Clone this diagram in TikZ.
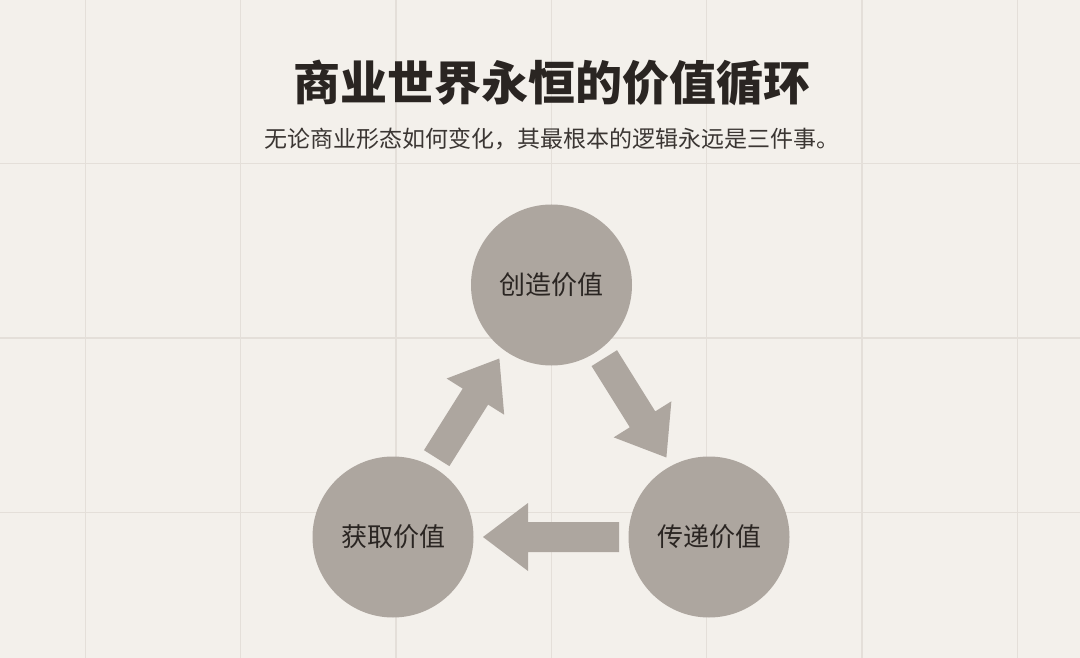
\documentclass[tikz,border=0pt]{standalone}
\usepackage{fontspec}
\newfontfamily\cjk{Noto Sans CJK SC}
\usetikzlibrary{calc}
\definecolor{bgc}{HTML}{F3F0EB}
\definecolor{gridc}{HTML}{E4DFD9}
\definecolor{circc}{HTML}{ADA69F}
\definecolor{txt}{HTML}{2A2522}
\definecolor{subtxt}{HTML}{3B3633}
% #1 source node, #2 target node, #3 sideways offset (outward)
\newcommand\fatarrow[3]{%
  \coordinate (fa-s0) at ($(#1)!90pt!(#2)$);
  \coordinate (fa-e0) at ($(#2)!90pt!(#1)$);
  \coordinate (fa-s) at ($(fa-s0)!#3!90:(fa-e0)$);
  \coordinate (fa-e) at ($(fa-e0)!#3!-90:(fa-s0)$);
  \coordinate (fa-h) at ($(fa-e)!45pt!(fa-s)$);
  \fill[arrowfill] ($(fa-s)!15pt!90:(fa-e)$) -- ($(fa-h)!15pt!90:(fa-e)$)
    -- ($(fa-h)!34pt!90:(fa-e)$) -- (fa-e) -- ($(fa-h)!34pt!-90:(fa-e)$)
    -- ($(fa-h)!15pt!-90:(fa-e)$) -- ($(fa-s)!15pt!-90:(fa-e)$) -- cycle;
}
\begin{document}
\begin{tikzpicture}[x=1pt,y=-1pt,
  grid/.style={draw=gridc, line width=1.1pt},
  bubble/.style={circle, fill=circc, minimum size=161pt, inner sep=0pt,
    font=\cjk\fontsize{26}{30}\selectfont, text=txt},
  arrowfill/.style={fill=circc},
  titlestyle/.style={inner sep=0pt, font=\cjk\bfseries\fontsize{47}{52}\selectfont, text=txt},
  substyle/.style={inner sep=0pt, font=\cjk\fontsize{23}{27}\selectfont, text=subtxt}]
\fill[bgc] (0,0) rectangle (1080,658);
\useasboundingbox (0,0) rectangle (1080,658);
\foreach \i in {0,...,6} \draw[grid] ({85.3+155.33*\i},0) -- ({85.3+155.33*\i},658);
\foreach \yy in {163.5,338,512.7} \draw[grid] (0,\yy) -- (1080,\yy);
\node[titlestyle] (title) at (551.5,83) {商业世界永恒的价值循环};
\node[substyle] (sub) at (552,138.5) {无论商业形态如何变化，其最根本的逻辑永远是三件事。};
\node[bubble] (create) at (551.5,285) {创造价值};
\node[bubble] (deliver) at (709,537) {传递价值};
\node[bubble] (capture) at (393,537) {获取价值};
\fatarrow{create}{deliver}{6pt}
\fatarrow{deliver}{capture}{0pt}
\fatarrow{capture}{create}{5pt}
\end{tikzpicture}
\end{document}
